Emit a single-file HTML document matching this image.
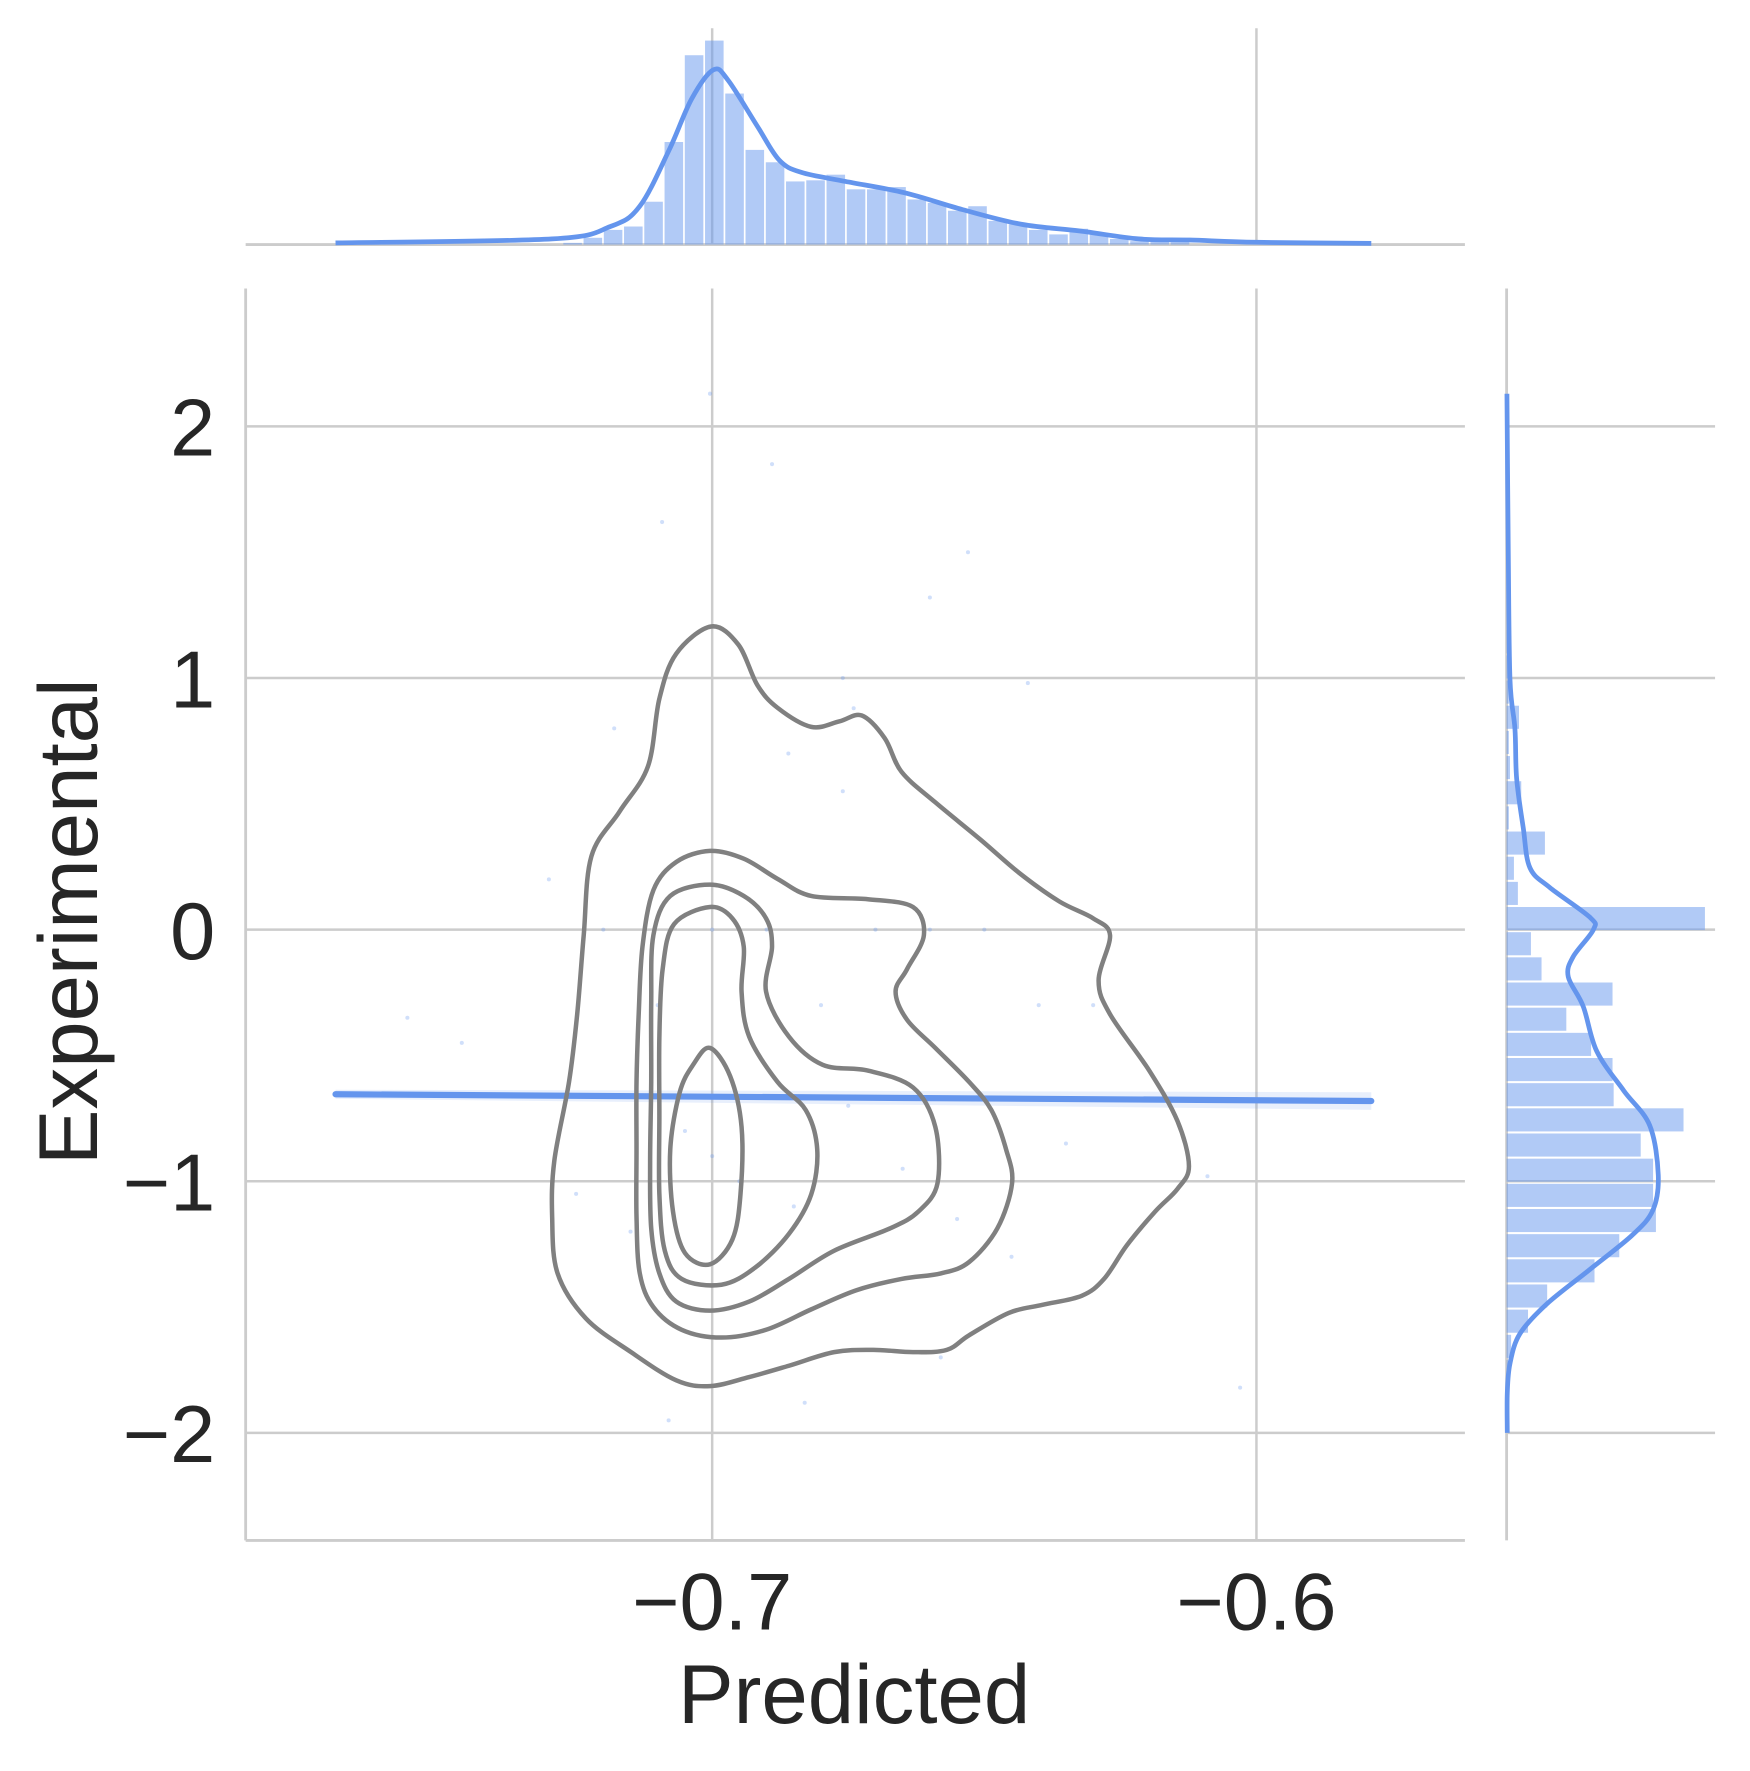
<!DOCTYPE html>
<html><head><meta charset="utf-8"><style>
html,body{margin:0;padding:0;background:#fff;}
svg{display:block;}
text{font-family:"Liberation Sans",Arial,sans-serif;fill:#262626;}
</style></head>
<body>
<svg id="chart" width="1750" height="1771" viewBox="0 0 1553 1571.6" xmlns="http://www.w3.org/2000/svg">
<g id="grid"></g>
<g id="scatter"></g>
<g id="reg"></g>
<g id="contours"></g>
<g id="topm"></g>
<g id="rightm"></g>
<g id="labels">
<text x="758" y="1529" font-size="74" text-anchor="middle">Predicted</text>
<text transform="translate(86,818) rotate(-90)" font-size="74" text-anchor="middle">Experimental</text>
</g>
</svg>
<script>
const xTicks=[-0.7,-0.6];
const xTickLabels=["−0.7","−0.6"];
const yTicks=[2,1,0,-1,-2];
const yTickLabels=["2","1","0","−1","−2"];
// top histogram
const topBinStart=-0.72735, topBinWidth=0.00372;
const topCounts=[1.5,6,13,16,38,91,168,181,134,84,73,56,57,62,49,49,51,40,37,30,34,21,18,13,9,14,9,5,3,5,2];
const topKdeX=[-0.7692,-0.7294,-0.7187,-0.7133,-0.7079,-0.7038,-0.6998,-0.6971,-0.6917,-0.6877,-0.6836,-0.6755,-0.6647,-0.654,-0.6432,-0.6324,-0.6216,-0.6122,-0.600,-0.5789];
const topKdeY=[1.5,5,16,34,84,129,155,146,105,75,64,56,46,31,18,12,5,4,2,1];
// right histogram
const rightBinTop=[1.19,1.09,0.99,0.89,0.79,0.69,0.59,0.49,0.39,0.29,0.19,0.09,-0.01,-0.11,-0.21,-0.31,-0.41,-0.51,-0.61,-0.71,-0.81,-0.91,-1.01,-1.11,-1.21,-1.31,-1.41,-1.51,-1.61,-1.71];
const rightCounts=[1,1.5,2,11,2,3,13,2,34,6.5,10,176,21.6,31,94,53,75,94,95,157,119,130,130,132.5,100,78,36,19,4,1];
const rightBinH=0.0985;
const rightKdeY=[2.13,1.5,0.995,0.798,0.601,0.404,0.246,0.167,0.049,0,-0.108,-0.187,-0.305,-0.483,-0.64,-0.778,-0.975,-1.113,-1.212,-1.35,-1.488,-1.606,-1.724,-1.842,-2.0];
const rightKdeV=[0.3,1.5,3,7.4,8.9,14.8,20.7,38.5,74,77,59,54.7,68,80,104,127,134.6,130,112,74,35.5,11.8,3,0.6,0.6];
// regression
const regX=[-0.7692,-0.5789];
const regY=[-0.654,-0.681];
const regBand=[0.018,0.035];
// KDE contour levels (x,y pairs)
const contour1=[[-0.7002,1.205],[-0.6952,1.133],[-0.6917,0.972],[-0.688,0.882],[-0.6818,0.806],[-0.6766,0.828],[-0.6725,0.851],[-0.6683,0.761],[-0.6652,0.627],[-0.659,0.506],[-0.6507,0.358],[-0.6435,0.224],[-0.6362,0.112],[-0.63,0.045],[-0.6269,-0.022],[-0.629,-0.202],[-0.6269,-0.336],[-0.6197,-0.56],[-0.6145,-0.761],[-0.6124,-0.94],[-0.6145,-1.03],[-0.6186,-1.12],[-0.6238,-1.254],[-0.628,-1.388],[-0.6321,-1.455],[-0.6393,-1.491],[-0.6455,-1.523],[-0.6528,-1.612],[-0.6569,-1.67],[-0.6631,-1.679],[-0.6704,-1.67],[-0.6776,-1.679],[-0.6859,-1.733],[-0.6932,-1.778],[-0.7004,-1.814],[-0.7066,-1.791],[-0.7149,-1.679],[-0.7232,-1.545],[-0.7284,-1.366],[-0.7294,-1.142],[-0.729,-0.918],[-0.7263,-0.605],[-0.7248,-0.336],[-0.7236,-0.022],[-0.7222,0.291],[-0.717,0.47],[-0.7118,0.649],[-0.7097,0.918],[-0.7066,1.097]];
const contour2=[[-0.7004,0.313],[-0.6942,0.282],[-0.688,0.202],[-0.6818,0.134],[-0.6714,0.121],[-0.6631,0.09],[-0.6611,-0.022],[-0.6642,-0.157],[-0.6663,-0.246],[-0.6642,-0.358],[-0.659,-0.47],[-0.6528,-0.605],[-0.6487,-0.717],[-0.646,-0.873],[-0.6449,-1.008],[-0.6476,-1.187],[-0.6528,-1.321],[-0.658,-1.366],[-0.6652,-1.388],[-0.6735,-1.433],[-0.6818,-1.509],[-0.6901,-1.59],[-0.6983,-1.621],[-0.7056,-1.59],[-0.7108,-1.5],[-0.7133,-1.366],[-0.7139,-1.142],[-0.7139,-0.873],[-0.7139,-0.605],[-0.7135,-0.336],[-0.7128,-0.067],[-0.7108,0.157],[-0.7066,0.269]];
const contour3=[[-0.7004,0.179],[-0.6942,0.134],[-0.6901,0.045],[-0.689,-0.067],[-0.6901,-0.246],[-0.6859,-0.425],[-0.6797,-0.537],[-0.6714,-0.56],[-0.6631,-0.627],[-0.659,-0.784],[-0.6586,-1.008],[-0.6621,-1.12],[-0.6673,-1.187],[-0.6776,-1.276],[-0.6859,-1.388],[-0.6932,-1.478],[-0.7004,-1.514],[-0.7066,-1.478],[-0.7097,-1.366],[-0.7112,-1.187],[-0.7114,-0.918],[-0.7112,-0.605],[-0.7112,-0.291],[-0.7108,-0.022],[-0.7077,0.134]];
const contour4=[[-0.7004,0.09],[-0.6963,0.045],[-0.6942,-0.067],[-0.6946,-0.246],[-0.6932,-0.425],[-0.688,-0.605],[-0.6828,-0.717],[-0.6807,-0.873],[-0.6818,-1.052],[-0.6859,-1.209],[-0.6921,-1.343],[-0.6983,-1.411],[-0.7056,-1.388],[-0.7087,-1.276],[-0.7097,-1.052],[-0.7097,-0.739],[-0.7097,-0.425],[-0.7091,-0.157],[-0.707,0.022]];
const contour5=[[-0.7004,-0.47],[-0.6967,-0.582],[-0.6946,-0.784],[-0.6948,-1.052],[-0.6963,-1.232],[-0.7004,-1.33],[-0.705,-1.285],[-0.7072,-1.12],[-0.7077,-0.873],[-0.706,-0.649],[-0.7035,-0.537]];
// sparse scatter sample (x,y)
const scatterX=[-0.7004,-0.6890,-0.6600,-0.6530,-0.7092,-0.6760,-0.6420,-0.6760,-0.6860,-0.6740,-0.7180,-0.7460,-0.6030,-0.6090,-0.7300,-0.7560,-0.6830,-0.7080,-0.6580,-0.7000,-0.6900,-0.6700,-0.6600,-0.6500,-0.7200,-0.7100,-0.6800,-0.6400,-0.6300,-0.7000,-0.6950,-0.6850,-0.7050,-0.6750,-0.6650,-0.7150,-0.6550,-0.6450,-0.7250,-0.6350];
const scatterY=[2.13,1.85,1.32,1.50,1.62,1.0,0.98,0.55,0.70,0.88,0.80,-0.45,-1.82,-0.98,0.20,-0.35,-1.88,-1.95,-1.70,0.0,0.0,0.0,0.0,0.0,0.0,-0.3,-0.3,-0.3,-0.3,-0.9,-1.0,-1.1,-0.8,-0.7,-0.95,-1.2,-1.15,-1.3,-1.05,-0.85];

const NS="http://www.w3.org/2000/svg";
const X0=-0.7,XPX0=632,XS=4830;
const sx=v=>XPX0+(v-X0)*XS;
const sy=v=>825-v*223.3;
const topBase=217, topY=v=>topBase-v;
const rightBase=1337, rightX=v=>rightBase+v;
function mk(tag,attrs,parent){const e=document.createElementNS(NS,tag);for(const k in attrs)e.setAttribute(k,attrs[k]);parent.appendChild(e);return e;}
function smoothClosed(pts){let d="";const n=pts.length;for(let i=0;i<n;i++){const p0=pts[(i-1+n)%n],p1=pts[i],p2=pts[(i+1)%n],p3=pts[(i+2)%n];if(i===0)d+="M"+p1[0]+","+p1[1];const c1=[p1[0]+(p2[0]-p0[0])/6,p1[1]+(p2[1]-p0[1])/6],c2=[p2[0]-(p3[0]-p1[0])/6,p2[1]-(p3[1]-p1[1])/6];d+="C"+c1+" "+c2+" "+p2;}return d+"Z";}
function smoothOpen(pts){let d="M"+pts[0];for(let i=0;i<pts.length-1;i++){const p0=pts[Math.max(i-1,0)],p1=pts[i],p2=pts[i+1],p3=pts[Math.min(i+2,pts.length-1)];const c1=[p1[0]+(p2[0]-p0[0])/6,p1[1]+(p2[1]-p0[1])/6],c2=[p2[0]-(p3[0]-p1[0])/6,p2[1]-(p3[1]-p1[1])/6];d+="C"+c1+" "+c2+" "+p2;}return d;}

const grid=document.getElementById('grid');
const G="#cccccc";
xTicks.forEach((t,i)=>{
 let l=mk('line',{x1:sx(t),x2:sx(t),y1:256,y2:1367,stroke:G,'stroke-width':2.2},grid);
 
 
 let l2=mk('line',{x1:sx(t),x2:sx(t),y1:25,y2:217,stroke:G,'stroke-width':2.2},grid);
 
 
 let tx=mk('text',{x:sx(t),y:1446,'font-size':72,'text-anchor':'middle'},grid);
 tx.textContent=xTickLabels[i];
 
 
});
yTicks.forEach((t,i)=>{
 let l=mk('line',{x1:218,x2:1300,y1:sy(t),y2:sy(t),stroke:G,'stroke-width':2.2},grid);
 
 
 let l2=mk('line',{x1:1337,x2:1522,y1:sy(t),y2:sy(t),stroke:G,'stroke-width':2.2},grid);
 
 
 let tx=mk('text',{x:191,y:sy(t)+26,'font-size':72,'text-anchor':'end'},grid);
 tx.textContent=yTickLabels[i];
 
 
});
[[218,256,218,1367],[218,1367,1300,1367],[218,217,1300,217],[1337,256,1337,1367]].forEach(a=>{
 let s=mk('line',{x1:a[0],y1:a[1],x2:a[2],y2:a[3],stroke:G,'stroke-width':2.5},grid);
 
 
});

const sc=document.getElementById('scatter');
scatterX.forEach((v,i)=>{
 let c=mk('circle',{cx:sx(v),cy:sy(scatterY[i]),r:1.8,fill:'#6495ed','fill-opacity':0.3},sc);
 
 
});

const reg=document.getElementById('reg');
let band=mk('path',{d:`M${sx(regX[0])},${sy(regY[0]+regBand[0])}L${sx(regX[1])},${sy(regY[1]+regBand[1])}L${sx(regX[1])},${sy(regY[1]-regBand[1])}L${sx(regX[0])},${sy(regY[0]-regBand[0])}Z`,fill:'#6495ed','fill-opacity':0.15},reg);


let rl=mk('line',{x1:sx(regX[0]),y1:sy(regY[0]),x2:sx(regX[1]),y2:sy(regY[1]),stroke:'#6495ed','stroke-width':5.5,'stroke-linecap':'round'},reg);



const cg=document.getElementById('contours');
[contour1,contour2,contour3,contour4,contour5].forEach((c,i)=>{
 const p=mk('path',{d:smoothClosed(c.map(q=>[sx(q[0]),sy(q[1])])),fill:'none',stroke:'#808080','stroke-width':4},cg);
 
 
});

const tm=document.getElementById('topm');
topCounts.forEach((v,i)=>{
 const x0=sx(topBinStart+i*topBinWidth),x1=sx(topBinStart+(i+1)*topBinWidth);
 const r=mk('rect',{x:x0,y:topY(v),width:x1-x0-1.5,height:v,fill:'#6495ed','fill-opacity':0.5},tm);
 
 
});
let tk=mk('path',{d:smoothOpen(topKdeX.map((v,i)=>[sx(v),topY(topKdeY[i])])),fill:'none',stroke:'#6495ed','stroke-width':4.2},tm);



const rm=document.getElementById('rightm');
rightCounts.forEach((v,i)=>{
 const y0=sy(rightBinTop[i]),y1=sy(rightBinTop[i]-rightBinH);
 const r=mk('rect',{x:rightBase,y:y0,width:v,height:y1-y0-1.5,fill:'#6495ed','fill-opacity':0.5},rm);
 
 
});
let rk=mk('path',{d:smoothOpen(rightKdeY.map((v,i)=>[rightX(rightKdeV[i]),sy(v)])),fill:'none',stroke:'#6495ed','stroke-width':4.2},rm);


</script>
</body></html>
